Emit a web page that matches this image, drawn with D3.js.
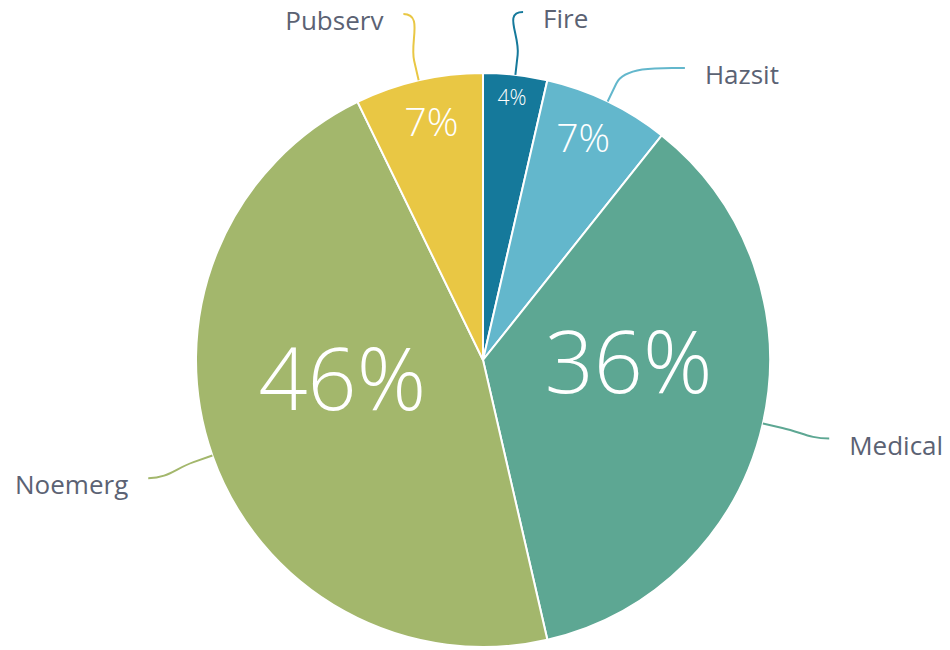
<!DOCTYPE html>
<html>
<head>
<meta charset="utf-8">
<script src="https://cdn.jsdelivr.net/npm/d3@7"></script>
<style>
  body { margin: 0; background: #fff; }
  text { font-family: "Open Sans", sans-serif; }
</style>
</head>
<body>
<div id="chart"></div>
<script>
'use strict';

// slice data, clockwise from 12 o'clock
const categories = ['Fire', 'Hazsit', 'Medical', 'Noemerg', 'Pubserv'];
const shares = [3.6, 7.1, 35.7, 46.4, 7.2];
const colours = ['#15799b', '#63b7cc', '#5da793', '#a3b76c', '#e9c744'];

function makePieChart() {
  const width = 950;
  const height = 650;
  const cx = 483;
  const cy = 360;
  const radius = 287;
  const labelRadius = radius + 68;

  const dataset = categories.map(function(c, i) {
    return { name: c, value: shares[i], colour: colours[i] };
  });

  const svg = d3.select('#chart')
    .append('svg')
    .attr('width', width)
    .attr('height', height);

  const g = svg.append('g')
    .attr('transform', 'translate(' + cx + ',' + cy + ')');

  const pie = d3.pie()
    .value(function(d) { return d.value; })
    .sort(null);

  const path = d3.arc().innerRadius(0).outerRadius(radius);
  const arcs = pie(dataset);

  g.selectAll('.slice')
    .data(arcs)
    .enter()
    .append('path')
    .attr('class', 'slice')
    .attr('d', path)
    .attr('fill', function(d) { return d.data.colour; })
    .attr('stroke', '#fff')
    .attr('stroke-width', 2);

  // percentage labels inside the slices, size follows the share (capped)
  const sizeScale = d3.scaleSqrt()
    .domain([0, d3.max(shares)])
    .range([0, 100]);

  function fontSize(d) {
    return Math.min(sizeScale(d.data.value), (d.endAngle - d.startAngle) * 93, 86);
  }

  // small labels hug the rim, big ones sit half way in
  function labelDist(d) {
    const fs = fontSize(d);
    return fs > 60 ? radius * 0.52 : radius - 1.44 * fs;
  }

  g.selectAll('.pct')
    .data(arcs)
    .enter()
    .append('text')
    .attr('class', 'pct')
    .attr('transform', function(d) {
      const lr = labelDist(d);
      const a = d3.arc().innerRadius(lr).outerRadius(lr);
      return 'translate(' + a.centroid(d) + ')';
    })
    .attr('text-anchor', 'middle')
    .attr('fill', '#fff')
    .style('font-weight', 300)
    .style('font-size', function(d) { return fontSize(d) + 'px'; })
    .text(function(d) { return Math.round(d.data.value) + '%'; });

  // outside labels: place on a circle, then push apart on each side
  const placed = arcs.map(function(d) {
    const mid = (d.startAngle + d.endAngle) / 2;
    const side = Math.sin(mid) >= 0 ? 1 : -1;
    return {
      d: d,
      mid: mid,
      side: side,
      x: labelRadius * Math.sin(mid),
      y: -labelRadius * Math.cos(mid)
    };
  });

  [1, -1].forEach(function(side) {
    const group = placed.filter(function(p) { return p.side === side; })
      .sort(function(a, b) { return a.y - b.y; });
    group.forEach(function(p, i) {
      if (p.y < 12 - cy) p.y = 12 - cy;
      if (i > 0 && p.y - group[i - 1].y < 56) {
        p.y = group[i - 1].y + 56;
        const dy = Math.min(Math.abs(p.y), labelRadius);
        p.x = side * Math.sqrt(labelRadius * labelRadius - dy * dy);
      }
    });
  });

  const edge = d3.arc().innerRadius(radius).outerRadius(radius);
  const bend = d3.arc().innerRadius(radius + 20).outerRadius(radius + 20);

  g.selectAll('.connector')
    .data(placed)
    .enter()
    .append('path')
    .attr('class', 'connector')
    .attr('fill', 'none')
    .attr('stroke', function(p) { return p.d.data.colour; })
    .attr('stroke-width', 2)
    .attr('d', function(p) {
      const e = edge.centroid(p.d);
      const b = bend.centroid(p.d);
      const c1 = [2 * b[0] - e[0], 2 * b[1] - e[1]];
      const c2 = [p.x - p.side * 20, p.y];
      return 'M' + e + 'L' + b + 'C' + c1 + ' ' + c2 + ' ' + [p.x, p.y];
    });

  g.selectAll('.name')
    .data(placed)
    .enter()
    .append('text')
    .attr('class', 'name')
    .attr('x', function(p) { return p.x + p.side * 20; })
    .attr('y', function(p) { return p.y + 7; })
    .attr('dy', '0.35em')
    .attr('text-anchor', function(p) { return p.side > 0 ? 'start' : 'end'; })
    .attr('fill', '#5b6273')
    .style('font-size', '26px')
    .text(function(p) { return p.d.data.name; });
}

makePieChart();
</script>
</body>
</html>
